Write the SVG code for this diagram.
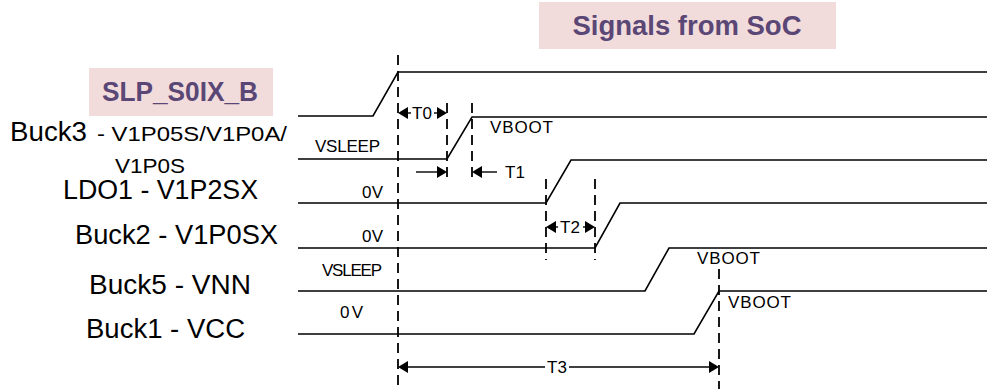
<svg xmlns="http://www.w3.org/2000/svg" width="987" height="389" viewBox="0 0 987 389">
<style>
.w{fill:none;stroke:#000;stroke-width:1.6}
.d{fill:none;stroke:#000;stroke-width:1.8;stroke-dasharray:10 6}
.a{fill:none;stroke:#000;stroke-width:1.4}
.big{font-family:"Liberation Sans",Arial,sans-serif;font-size:27px;fill:#000}
.mid{font-family:"Liberation Sans",Arial,sans-serif;font-size:21px;fill:#000}
.sm{font-family:"Liberation Sans",Arial,sans-serif;font-size:17px;fill:#000}
.hd{font-family:"Liberation Sans",Arial,sans-serif;font-weight:bold;fill:#5a4776}
.box{fill:#f2dcdb}
</style>
<defs>
<path id="ar" d="M0,0 L-10,-6 L-10,6 z" fill="#000"/>
<path id="al" d="M0,0 L10,-6 L10,6 z" fill="#000"/>
</defs>

<g id="title-soc">
<rect class="box" x="539" y="2" width="297" height="47"/>
<text class="hd" x="687" y="35" font-size="28" text-anchor="middle" textLength="229" lengthAdjust="spacingAndGlyphs">Signals from SoC</text>
</g>

<g id="sig-slp">
<rect class="box" x="89" y="68" width="184" height="48"/>
<text class="hd" x="180" y="101" font-size="27" text-anchor="middle" textLength="156" lengthAdjust="spacingAndGlyphs">SLP_S0IX_B</text>
<polyline class="w" points="298,116 373,116 398,72 987,72"/>
</g>

<g id="sig-buck3">
<text class="big" x="10" y="141" textLength="77" lengthAdjust="spacingAndGlyphs">Buck3</text>
<text class="mid" x="97" y="141" textLength="190" lengthAdjust="spacingAndGlyphs"> - V1P05S/V1P0A/</text>
<text class="mid" x="115" y="173" textLength="70" lengthAdjust="spacingAndGlyphs">V1P0S</text>
<text class="sm" x="315" y="152" font-size="16" textLength="65">VSLEEP</text>
<text class="sm" x="490" y="133" textLength="63">VBOOT</text>
<polyline class="w" points="298,159 447,159 472,117 987,117"/>
</g>

<g id="sig-ldo1">
<text class="big" x="63" y="199" textLength="195" lengthAdjust="spacingAndGlyphs">LDO1 - V1P2SX</text>
<text class="sm" x="362" y="198" textLength="21">0V</text>
<polyline class="w" points="298,203 546,203 571,160 987,160"/>
</g>

<g id="sig-buck2">
<text class="big" x="75" y="244" textLength="203" lengthAdjust="spacingAndGlyphs">Buck2 - V1P0SX</text>
<text class="sm" x="362" y="242" textLength="21">0V</text>
<polyline class="w" points="298,248 595,248 620,203 987,203"/>
</g>

<g id="sig-buck5">
<text class="big" x="89" y="294" textLength="162" lengthAdjust="spacingAndGlyphs">Buck5 - VNN</text>
<text class="sm" x="322" y="276" font-size="16" textLength="60">VSLEEP</text>
<text class="sm" x="697" y="264" textLength="63">VBOOT</text>
<polyline class="w" points="298,291 645,291 669,248 987,248"/>
</g>

<g id="sig-buck1">
<text class="big" x="86" y="338" textLength="159" lengthAdjust="spacingAndGlyphs">Buck1 - VCC</text>
<text class="sm" x="340" y="318" textLength="23">0V</text>
<text class="sm" x="728" y="308" textLength="63">VBOOT</text>
<polyline class="w" points="298,334 694,334 719,291 987,291"/>
</g>

<g id="connectors">
<line class="d" x1="398" y1="55" x2="398" y2="389"/>
<line class="d" x1="447" y1="103" x2="447" y2="183"/>
<line class="d" x1="472" y1="103" x2="472" y2="183"/>
<line class="d" x1="546" y1="179" x2="546" y2="260"/>
<line class="d" x1="595" y1="179" x2="595" y2="260"/>
<line class="d" x1="719" y1="269" x2="719" y2="389"/>
<line class="a" x1="411" y1="113" x2="400" y2="113"/>
<use href="#al" x="398" y="113"/>
<line class="a" x1="434" y1="113" x2="445" y2="113"/>
<use href="#ar" x="447" y="113"/>
<text class="sm" x="422" y="119" text-anchor="middle">T0</text>
<line class="a" x1="416" y1="172" x2="445" y2="172"/>
<use href="#ar" x="447" y="172"/>
<line class="a" x1="497" y1="172" x2="474" y2="172"/>
<use href="#al" x="472" y="172"/>
<text class="sm" x="505" y="178">T1</text>
<line class="a" x1="558" y1="227" x2="548" y2="227"/>
<use href="#al" x="546" y="227"/>
<line class="a" x1="583" y1="227" x2="593" y2="227"/>
<use href="#ar" x="595" y="227"/>
<text class="sm" x="570" y="233" text-anchor="middle">T2</text>
<line class="a" x1="545" y1="367" x2="400" y2="367"/>
<use href="#al" x="398" y="367"/>
<line class="a" x1="569" y1="367" x2="717" y2="367"/>
<use href="#ar" x="719" y="367"/>
<text class="sm" x="557" y="373" text-anchor="middle">T3</text>
</g>
</svg>
